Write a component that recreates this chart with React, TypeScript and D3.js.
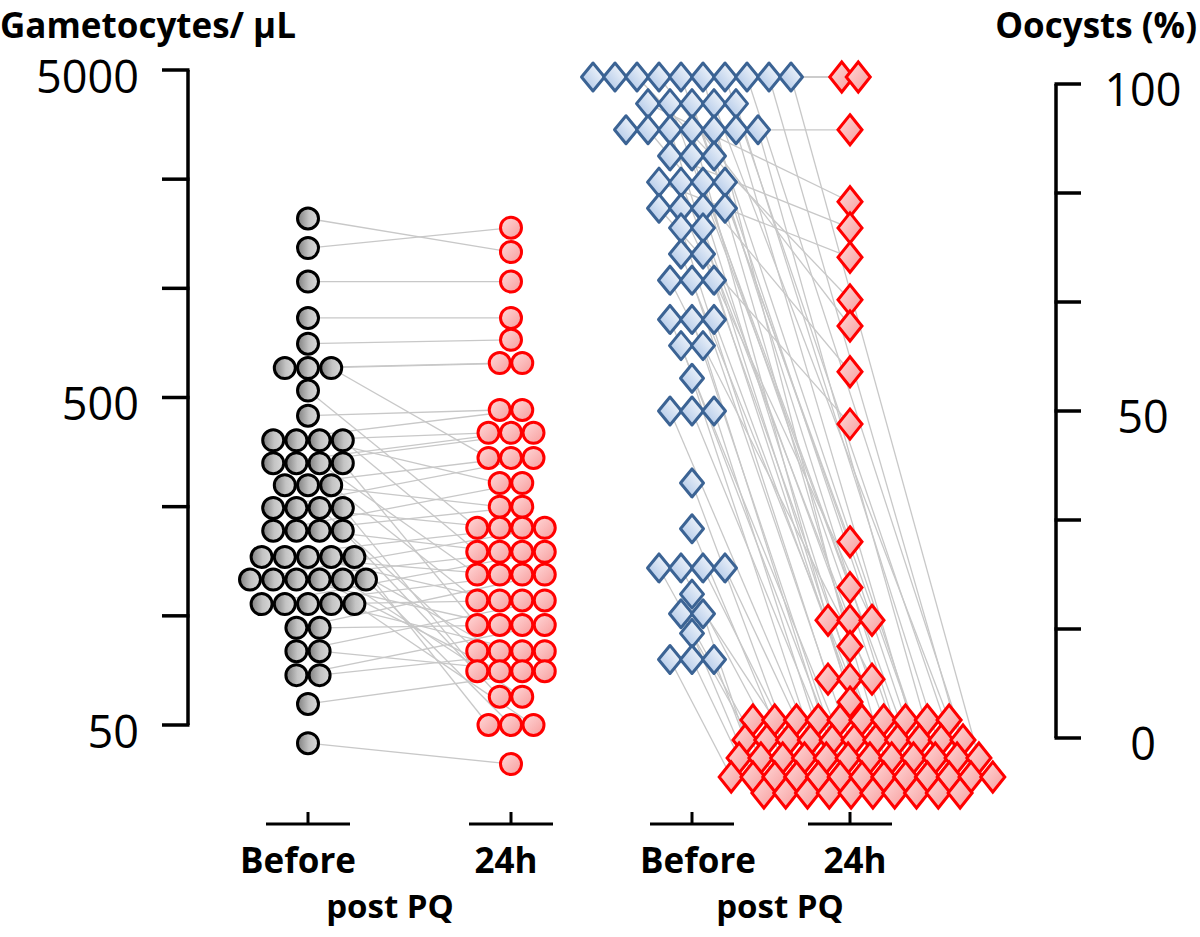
import * as d3 from 'd3';
import React from 'react';

// gametocytes / µL per patient, same patient at the same index in both arrays
const gametBefore = [1760, 1430, 1130, 875, 730, 615, 615, 615, 525, 440,
  370, 370, 370, 370, 315, 315, 315, 315, 270, 270, 270, 230, 230, 230, 230,
  196, 196, 196, 196, 163, 163, 163, 163, 163, 139, 139, 139, 139, 139, 139,
  117, 117, 117, 117, 117, 99, 99, 84, 84, 71, 71, 58, 44];
const gametAfter = [1390, 1650, 1130, 875, 750, 637, 637, 327, 200, 458,
  458, 390, 274, 169, 390, 390, 144, 101, 327, 232, 120, 327, 200, 84, 73,
  274, 232, 169, 61, 200, 144, 120, 84, 50, 200, 169, 101, 73, 61, 50,
  169, 144, 120, 84, 50, 144, 101, 120, 73, 101, 84, 73, 38];

// oocysts (% infected mosquitoes); pairs by index, extra 24h zeros at the end
const oocBefore = [100, 100, 93, 97, 89, 85, 100, 100, 93, 81,
  100, 97, 93, 85, 81, 100, 78, 74, 70, 93,
  12, 12, 12, 16, 19, 19, 22, 26, 26, 26, 26, 32, 39, 50, 50, 50, 55, 60, 60, 64,
  64, 64, 70, 70, 74, 78, 81, 81, 85, 85, 89, 89, 93, 93, 93, 97, 97, 97, 100, 100,
  100, 100];
const oocAfter = [100, 100, 93, 82, 78, 73.5, 67, 63, 56, 48,
  30, 23, 18, 18, 18, 14, 9, 9, 9, 5.5,
  0, 0, 0, 0, 0, 0, 0, 0, 0, 0, 0, 0, 0, 0, 0, 0, 0, 0, 0, 0,
  0, 0, 0, 0, 0, 0, 0, 0, 0, 0, 0, 0, 0, 0, 0, 0, 0, 0, 0, 0,
  0, 0,
  0, 0, 0, 0, 0, 0, 0, 0, 0, 0, 0, 0, 0, 0];

const leftLabels = [50, 500, 5000];
const rightLabels = [0, 50, 100];
const groupLabels = ['Before', '24h'];

const FONT = '"Open Sans", "Noto Sans", sans-serif';

const yL = d3.scaleLog().domain([50, 5000]).range([725, 70]);
const yR = d3.scaleLinear().domain([0, 100]).range([738, 84]);
const colX = { gB: 308, gA: 511, oB: 692, oA: 850 };

type P = { x: number; y: number };

// rows of equal values, spread side by side around the column centre
function swarm(values: number[], y: (v: number) => number, cx: number, step: number): P[] {
  const pos: P[] = values.map(() => ({ x: cx, y: 0 }));
  const groups = d3.group(values.map((_, i) => i), i => values[i]);
  groups.forEach(idx => {
    idx.forEach((i, k) => {
      pos[i] = { x: cx + (k - (idx.length - 1) / 2) * step, y: y(values[i]) };
    });
  });
  return pos;
}

// overflow block for the 0% group (dense lattice under the axis zero)
const zeroRows = [
  { dy: -18, n: 10, dx: 1 }, { dy: 2, n: 11, dx: 4 }, { dy: 20, n: 12, dx: 9 },
  { dy: 39, n: 13, dx: 12 }, { dy: 55, n: 10, dx: 12 },
];

const gBpos = swarm(gametBefore, yL, colX.gB, 23.2);
const gApos = swarm(gametAfter, yL, colX.gA, 22.5);
const oBpos = swarm(oocBefore, yR, colX.oB, 22);
const oApos = swarm(oocAfter, yR, colX.oA, 22);

// the full 100% row sits a bit above the axis top in the original (overflow)
oocBefore.forEach((v, i) => { if (v === 100) oBpos[i].y -= 7; });
oocAfter.forEach((v, i) => { if (v === 100) { oApos[i].y -= 7; oApos[i].x = colX.oA + (oApos[i].x - colX.oA) * 0.75; } });

(() => {
  const slots: P[] = [];
  zeroRows.forEach(r => {
    for (let k = 0; k < r.n; k++) slots.push({ x: colX.oA + r.dx + (k - (r.n - 1) / 2) * 21.8, y: yR(0) + r.dy });
  });
  slots.sort((a, b) => a.x - b.x || a.y - b.y);
  const zi = oocAfter.map((v, i) => i).filter(i => oocAfter[i] === 0);
  const paired = zi.filter(i => i < oocBefore.length);
  const rest = zi.filter(i => i >= oocBefore.length);
  const used = new Set<number>();
  paired.forEach((i, j) => {
    const s = Math.floor((j * slots.length) / paired.length);
    used.add(s);
    oApos[i] = slots[s];
  });
  const free = slots.map((_, s) => s).filter(s => !used.has(s));
  rest.forEach((i, j) => { oApos[i] = slots[free[j]]; });
})();

const diamond = (w: number, h: number) => `M0,${-h}L${w},0L0,${h}L${-w},0Z`;

export default function App() {
  const W = 1200, H = 937;
  const leftTicks = d3.range(7).map(k => 50 * Math.pow(10, k / 3));
  const rightTicks = d3.range(7).map(k => (100 * k) / 6);
  const byY = (a: number, b: number, arr: P[]) => arr[a].y - arr[b].y;
  const oBorder = oocBefore.map((_, i) => i).sort((a, b) => byY(a, b, oBpos));
  const oAorder = oocAfter.map((_, i) => i).sort((a, b) => byY(a, b, oApos) || oApos[a].x - oApos[b].x);

  const bottom = [
    { key: 'gB', label: groupLabels[0], tx: 298 }, { key: 'gA', label: groupLabels[1], tx: 506 },
    { key: 'oB', label: groupLabels[0], tx: 698 }, { key: 'oA', label: groupLabels[1], tx: 855 },
  ];

  return (
    <svg width={W} height={H} style={{ position: 'absolute', left: 0, top: 0, background: '#fff' }}
      fontFamily={FONT}>
      <defs>
        <linearGradient id="gray" x1="0" y1="0" x2="1" y2="0">
          <stop offset="0%" stopColor="#7f7f7f" />
          <stop offset="55%" stopColor="#c4c4c4" />
          <stop offset="100%" stopColor="#d9d9d9" />
        </linearGradient>
        <linearGradient id="pink" x1="0" y1="0" x2="1" y2="1">
          <stop offset="0%" stopColor="#ffd9d9" />
          <stop offset="100%" stopColor="#f79c9c" />
        </linearGradient>
        <linearGradient id="blue" x1="1" y1="0" x2="0" y2="1">
          <stop offset="0%" stopColor="#ffffff" />
          <stop offset="100%" stopColor="#a4bfe4" />
        </linearGradient>
      </defs>

      {/* titles */}
      <text x={0} y={38} fontSize={35} fontWeight="bold">Gametocytes/ µL</text>
      <text x={1197} y={38} fontSize={35} fontWeight="bold" textAnchor="end">Oocysts (%)</text>

      {/* left axis */}
      <line x1={188} x2={188} y1={yL(5000)} y2={yL(50)} stroke="#000" strokeWidth={3.5} />
      {leftTicks.map((t, i) => (
        <line key={i} x1={162} x2={189.5} y1={yL(t)} y2={yL(t)} stroke="#000" strokeWidth={3.5} />
      ))}
      {leftLabels.map(t => (
        <text key={t} x={139} y={yL(t) + 5} fontSize={45} textAnchor="end" dominantBaseline="central">{t}</text>
      ))}

      {/* right axis */}
      <line x1={1056} x2={1056} y1={yR(100)} y2={yR(0)} stroke="#000" strokeWidth={3.5} />
      {rightTicks.map((t, i) => (
        <line key={i} x1={1054.5} x2={1081} y1={yR(t)} y2={yR(t)} stroke="#000" strokeWidth={3.5} />
      ))}
      {rightLabels.map(t => (
        <text key={t} x={1143} y={yR(t) + 4} fontSize={45} textAnchor="middle" dominantBaseline="central">{t}</text>
      ))}

      {/* paired lines */}
      <g stroke="#c8c8c8" strokeWidth={1.3} fill="none">
        {gametBefore.map((_, i) => (
          <line key={'g' + i} x1={gBpos[i].x} y1={gBpos[i].y} x2={gApos[i].x} y2={gApos[i].y} />
        ))}
        {oocBefore.map((_, i) => (
          <line key={'o' + i} x1={oBpos[i].x} y1={oBpos[i].y} x2={oApos[i].x} y2={oApos[i].y} />
        ))}
      </g>

      {/* gametocyte circles */}
      {gBpos.map((p, i) => (
        <circle key={'gb' + i} cx={p.x} cy={p.y} r={10.5} fill="url(#gray)" stroke="#000" strokeWidth={3} />
      ))}
      {gApos.map((p, i) => (
        <circle key={'ga' + i} cx={p.x} cy={p.y} r={10.5} fill="url(#pink)" stroke="#ff0000" strokeWidth={3} />
      ))}

      {/* oocyst diamonds */}
      {oBorder.map(i => (
        <path key={'ob' + i} d={diamond(11.5, 14)} transform={`translate(${oBpos[i].x},${oBpos[i].y})`}
          fill="url(#blue)" stroke="#3b6394" strokeWidth={3} strokeLinejoin="round" />
      ))}
      {oAorder.map(i => (
        <path key={'oa' + i} d={diamond(12, 15)} transform={`translate(${oApos[i].x},${oApos[i].y})`}
          fill="url(#pink)" stroke="#ff0000" strokeWidth={3} strokeLinejoin="miter" />
      ))}

      {/* category ticks + labels */}
      {bottom.map(b => {
        const x = colX[b.key as keyof typeof colX];
        return (
          <g key={b.key}>
            <line x1={x - 42} x2={x + 42} y1={824} y2={824} stroke="#000" strokeWidth={3} />
            <line x1={x} x2={x} y1={812} y2={824} stroke="#000" strokeWidth={3} />
            <text x={b.tx} y={873} fontSize={35} fontWeight="bold" textAnchor="middle">{b.label}</text>
          </g>
        );
      })}
      <text x={390} y={918} fontSize={33} fontWeight="bold" textAnchor="middle">post PQ</text>
      <text x={780} y={918} fontSize={33} fontWeight="bold" textAnchor="middle">post PQ</text>
    </svg>
  );
}
